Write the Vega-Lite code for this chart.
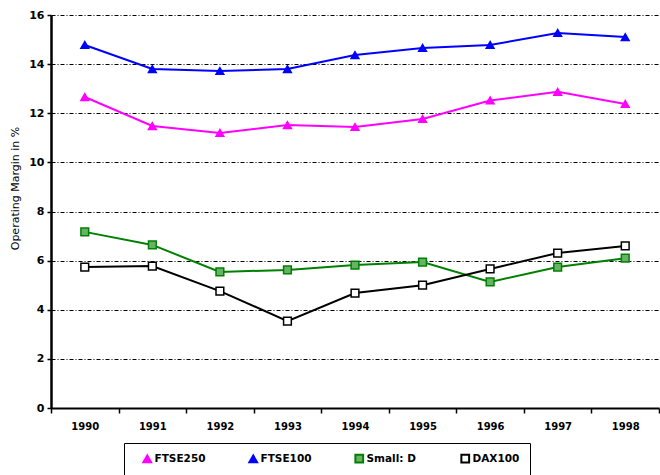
{
  "$schema": "https://vega.github.io/schema/vega-lite/v6.json",
  "width": 608,
  "height": 393,
  "autosize": "none",
  "padding": {"left": 51, "top": 15, "right": 1, "bottom": 67},
  "background": "white",
  "config": {
    "font": "DejaVu Sans",
    "view": {"stroke": null},
    "axis": {"labelFont": "DejaVu Sans", "labelFontWeight": "bold", "labelColor": "black", "titleColor": "black", "tickColor": "black", "domainColor": "black"}
  },
  "data": {
    "values": [
      {"year": "1990", "series": "FTSE250", "margin": 12.66},
      {"year": "1991", "series": "FTSE250", "margin": 11.48},
      {"year": "1992", "series": "FTSE250", "margin": 11.2},
      {"year": "1993", "series": "FTSE250", "margin": 11.52},
      {"year": "1994", "series": "FTSE250", "margin": 11.44},
      {"year": "1995", "series": "FTSE250", "margin": 11.77},
      {"year": "1996", "series": "FTSE250", "margin": 12.52},
      {"year": "1997", "series": "FTSE250", "margin": 12.87},
      {"year": "1998", "series": "FTSE250", "margin": 12.38},
      {"year": "1990", "series": "FTSE100", "margin": 14.78},
      {"year": "1991", "series": "FTSE100", "margin": 13.8},
      {"year": "1992", "series": "FTSE100", "margin": 13.72},
      {"year": "1993", "series": "FTSE100", "margin": 13.8},
      {"year": "1994", "series": "FTSE100", "margin": 14.37},
      {"year": "1995", "series": "FTSE100", "margin": 14.66},
      {"year": "1996", "series": "FTSE100", "margin": 14.78},
      {"year": "1997", "series": "FTSE100", "margin": 15.27},
      {"year": "1998", "series": "FTSE100", "margin": 15.1},
      {"year": "1990", "series": "Small: D", "margin": 7.17},
      {"year": "1991", "series": "Small: D", "margin": 6.64},
      {"year": "1992", "series": "Small: D", "margin": 5.54},
      {"year": "1993", "series": "Small: D", "margin": 5.62},
      {"year": "1994", "series": "Small: D", "margin": 5.82},
      {"year": "1995", "series": "Small: D", "margin": 5.94},
      {"year": "1996", "series": "Small: D", "margin": 5.13},
      {"year": "1997", "series": "Small: D", "margin": 5.74},
      {"year": "1998", "series": "Small: D", "margin": 6.1},
      {"year": "1990", "series": "DAX100", "margin": 5.74},
      {"year": "1991", "series": "DAX100", "margin": 5.78},
      {"year": "1992", "series": "DAX100", "margin": 4.76},
      {"year": "1993", "series": "DAX100", "margin": 3.54},
      {"year": "1994", "series": "DAX100", "margin": 4.68},
      {"year": "1995", "series": "DAX100", "margin": 5.0},
      {"year": "1996", "series": "DAX100", "margin": 5.66},
      {"year": "1997", "series": "DAX100", "margin": 6.31},
      {"year": "1998", "series": "DAX100", "margin": 6.6}
    ]
  },
  "encoding": {
    "x": {
      "field": "year",
      "type": "ordinal",
      "bandPosition": 0.5,
      "scale": {"type": "band", "paddingInner": 0, "paddingOuter": 0},
      "axis": {"title": null, "labelAngle": 0, "labelFontSize": 10, "tickBand": "extent", "tickSize": 5, "tickWidth": 1.5, "domainWidth": 2, "labelPadding": 8, "grid": false}
    },
    "y": {
      "field": "margin",
      "type": "quantitative",
      "scale": {"domain": [0, 16], "nice": false},
      "axis": {
        "title": "Operating Margin in %",
        "titleFont": "DejaVu Sans",
        "titleFontSize": 11,
        "titleFontWeight": "normal",
        "titlePadding": 8,
        "titleY": 173,
        "labelFontSize": 11,
        "values": [0, 2, 4, 6, 8, 10, 12, 14, 16],
        "tickSize": 4,
        "tickWidth": 1.5,
        "domainWidth": 2.5,
        "labelPadding": 3,
        "grid": true,
        "gridColor": "black",
        "gridDash": [4, 2, 1, 2],
        "gridWidth": 1,
        "gridOpacity": 1
      }
    }
  },
  "layer": [
    {
      "mark": {"type": "line", "strokeWidth": 2},
      "encoding": {
        "color": {
          "field": "series",
          "type": "nominal",
          "scale": {"domain": ["FTSE250", "FTSE100", "Small: D", "DAX100"], "range": ["#ff00ff", "#0000ff", "#008000", "#000000"]},
          "legend": {
            "title": null,
            "orient": "none",
            "legendX": 73,
            "legendY": 428,
            "direction": "horizontal",
            "gridAlign": "all",
            "columnPadding": 34,
            "strokeColor": "black",
            "padding": 10,
            "symbolOffset": 8,
            "symbolSize": 625,
            "symbolStrokeWidth": 2,
            "labelOffset": 2,
            "labelFont": "DejaVu Sans",
            "labelFontWeight": "bold",
            "labelFontSize": 10.5,
            "labelColor": "black"
          }
        }
      }
    },
    {
      "mark": {"type": "point", "filled": true, "strokeWidth": 1.5, "opacity": 1},
      "encoding": {
        "stroke": {
          "field": "series",
          "type": "nominal",
          "scale": {"domain": ["FTSE250", "FTSE100", "Small: D", "DAX100"], "range": ["#ff00ff", "#0000ff", "#008000", "#000000"]},
          "legend": null
        },
        "fill": {
          "field": "series",
          "type": "nominal",
          "scale": {"domain": ["FTSE250", "FTSE100", "Small: D", "DAX100"], "range": ["#ff00ff", "#0000ff", "#66b366", "#ffffff"]},
          "legend": null
        },
        "shape": {
          "field": "series",
          "type": "nominal",
          "scale": {"domain": ["FTSE250", "FTSE100", "Small: D", "DAX100"], "range": ["triangle-up", "triangle-up", "square", "square"]},
          "legend": null
        },
        "size": {
          "field": "series",
          "type": "nominal",
          "scale": {"domain": ["FTSE250", "FTSE100", "Small: D", "DAX100"], "range": [60, 60, 22, 22]},
          "legend": null
        }
      }
    }
  ]
}
